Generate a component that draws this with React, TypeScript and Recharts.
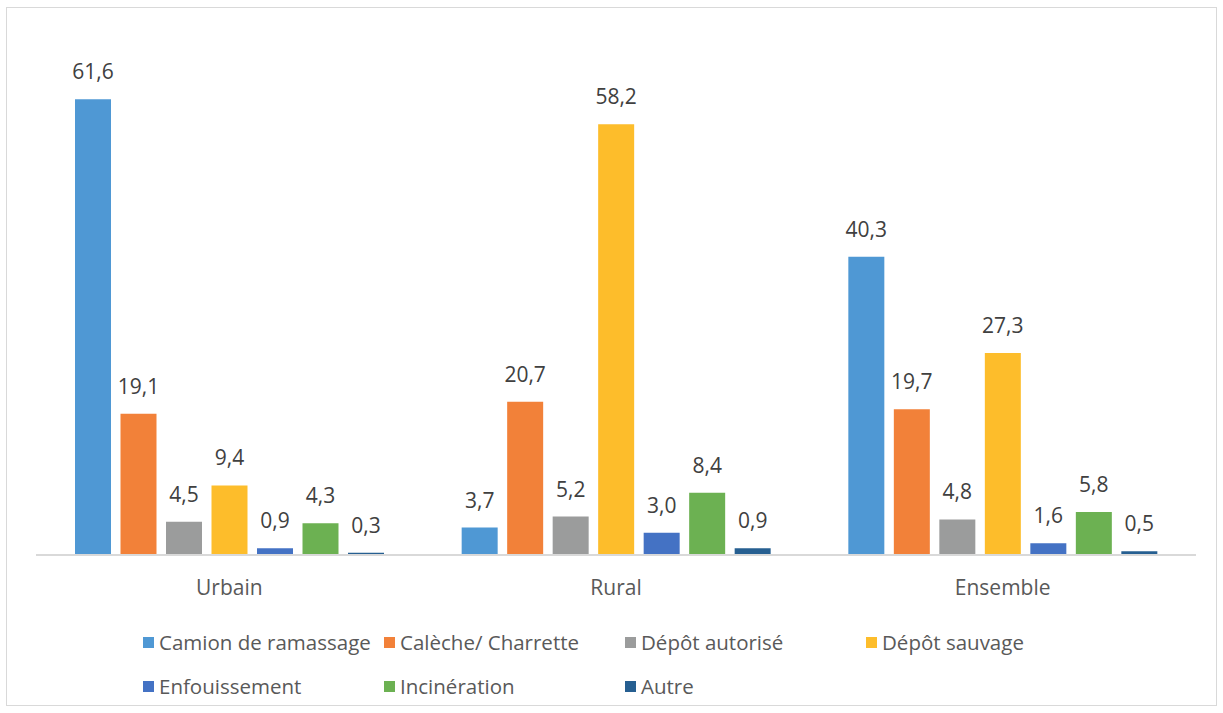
import React from "react";
import { BarChart, Bar, XAxis, YAxis, LabelList } from "recharts";

const categories = ["Urbain", "Rural", "Ensemble"];
const seriesNames = [
  "Camion de ramassage",
  "Calèche/ Charrette",
  "Dépôt autorisé",
  "Dépôt sauvage",
  "Enfouissement",
  "Incinération",
  "Autre",
];
const camion = [61.6, 3.7, 40.3];
const caleche = [19.1, 20.7, 19.7];
const depotAutorise = [4.5, 5.2, 4.8];
const depotSauvage = [9.4, 58.2, 27.3];
const enfouissement = [0.9, 3.0, 1.6];
const incineration = [4.3, 8.4, 5.8];
const autre = [0.3, 0.9, 0.5];

const colors = ["#4f98d4", "#f28139", "#9b9c9c", "#fdbd2b", "#4472c4", "#6cb152", "#265f91"];
const seriesValues = [camion, caleche, depotAutorise, depotSauvage, enfouissement, incineration, autre];
const keys = ["s0", "s1", "s2", "s3", "s4", "s5", "s6"];

const data = categories.map((c, i) => {
  const row: any = { name: c };
  keys.forEach((k, j) => (row[k] = seriesValues[j][i]));
  return row;
});

const fmt = (v: any) => Number(v).toFixed(1).replace(".", ",");
const FONT = "'Open Sans', sans-serif";

const LegendBox = () => (
  <div style={{ position: "absolute", left: 143, top: 629, width: 1000, height: 80 }}>
    {seriesNames.map((n, i) => {
      const col = i % 4;
      const row = Math.floor(i / 4);
      return (
        <div
          key={n}
          style={{
            position: "absolute",
            left: col * 241,
            top: row * 44,
            display: "flex",
            alignItems: "center",
            whiteSpace: "nowrap",
            fontFamily: FONT,
            fontSize: 20.5,
            lineHeight: "26px",
            color: "#595959",
          }}
        >
          <span style={{ display: "inline-block", width: 11, height: 11, background: colors[i], marginRight: 5 }} />
          {n}
        </div>
      );
    })}
  </div>
);

export default function App() {
  return (
    <div style={{ position: "absolute", left: 0, top: 0, width: 1223, height: 713, background: "#fff" }}>
      <div
        style={{
          position: "absolute",
          left: 6,
          top: 7,
          width: 1211,
          height: 699,
          border: "1px solid #d9d9d9",
          boxSizing: "border-box",
        }}
      />
      <BarChart
        width={1223}
        height={713}
        data={data}
        margin={{ top: 37, left: 36, right: 27, bottom: 128 }}
        barSize={36}
        barGap={9.5}
        style={{ position: "absolute", left: 0, top: 0 }}
      >
        <XAxis
          dataKey="name"
          height={30}
          axisLine={{ stroke: "#d9d9d9", strokeWidth: 2 }}
          tickLine={false}
          tick={{ fill: "#595959", fontSize: 21, fontFamily: FONT }}
          tickMargin={19}
        />
        <YAxis hide domain={[0, 70]} />
        {keys.map((k, i) => (
          <Bar key={k} dataKey={k} name={seriesNames[i]} fill={colors[i]} isAnimationActive={false}>
            <LabelList
              dataKey={k}
              position="top"
              offset={20}
              formatter={fmt}
              style={{ fill: "#404040", fontSize: 21, fontFamily: FONT }}
            />
          </Bar>
        ))}
      </BarChart>
      <LegendBox />
    </div>
  );
}
